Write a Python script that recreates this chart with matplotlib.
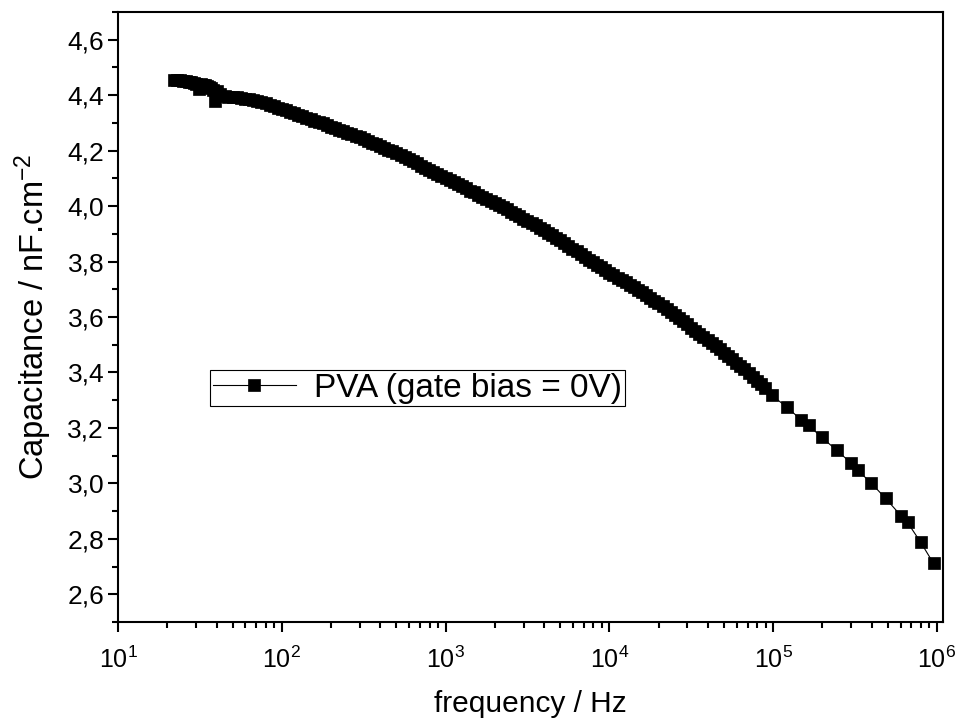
import numpy as np
import matplotlib
matplotlib.use("Agg")
import matplotlib.pyplot as plt
from matplotlib.ticker import MultipleLocator, FuncFormatter, LogLocator

# frecuencias (Hz)
freq = [22, 23, 24, 25, 26, 27, 28, 29, 30, 31, 32, 33, 34, 35, 36, 37, 38, 39, 40,
        42, 45, 47, 50, 53, 56, 60, 63, 67, 71, 75, 80, 85, 90, 95,
        100, 106, 112, 119, 126, 133, 141, 150, 158, 168, 178, 188, 200, 211,
        224, 237, 251, 266, 282, 299, 316, 335, 355, 376, 398, 422, 447, 473,
        501, 531, 562, 596, 631, 668, 708, 750, 794, 841, 891, 944,
        1000, 1059, 1122, 1189, 1259, 1334, 1413, 1496, 1585, 1679, 1778, 1884,
        1995, 2113, 2239, 2371, 2512, 2661, 2818, 2985, 3162, 3350, 3548, 3758,
        3981, 4217, 4467, 4732, 5012, 5309, 5623, 5957, 6310, 6683, 7079, 7499,
        7943, 8414, 8913, 9441,
        10000, 10593, 11220, 11885, 12589, 13335, 14125, 14962, 15849, 16788,
        17783, 18836, 19953, 21135, 22387, 23714, 25119, 26607, 28184, 29854,
        31623, 33497, 35481, 37584, 39811, 42170, 44668, 47315, 50119, 53088,
        56234, 59566, 63096, 66834, 70795, 74989, 79433, 84140, 89125,
        98000, 122000, 149000, 165000, 198000, 244000, 301000, 328000,
        399000, 486000, 603000, 662000, 798000, 955000]

# capacitancia (nF/cm2)
cap = [4.456, 4.455, 4.454, 4.452, 4.451, 4.449, 4.447, 4.445, 4.442, 4.422,
       4.440, 4.438, 4.436, 4.433, 4.430, 4.426, 4.420, 4.378, 4.415,
       4.405, 4.398, 4.395, 4.393, 4.392, 4.390, 4.386, 4.385, 4.383, 4.380,
       4.377, 4.371, 4.366, 4.360, 4.355,
       4.350, 4.345, 4.340, 4.335, 4.329, 4.324, 4.319, 4.314, 4.308, 4.303,
       4.298, 4.293, 4.287, 4.282, 4.276, 4.271, 4.265, 4.260, 4.254, 4.248,
       4.242, 4.236, 4.229, 4.223, 4.217, 4.211, 4.204, 4.197,
       4.190, 4.184, 4.177, 4.170, 4.162, 4.154, 4.146, 4.139, 4.131, 4.123,
       4.115, 4.108,
       4.100, 4.093, 4.086, 4.079, 4.071, 4.064, 4.056, 4.049, 4.041, 4.034,
       4.026, 4.019, 4.011, 4.003, 3.995, 3.988, 3.980, 3.972, 3.963, 3.955,
       3.947, 3.939, 3.931, 3.922, 3.913, 3.904, 3.895, 3.886, 3.876, 3.866,
       3.856, 3.847, 3.837, 3.827, 3.817, 3.807, 3.798, 3.788, 3.779, 3.769,
       3.760, 3.750, 3.741, 3.734, 3.727, 3.717, 3.708, 3.698, 3.689, 3.679,
       3.669, 3.659, 3.649, 3.639, 3.628, 3.617, 3.606, 3.595, 3.584, 3.573,
       3.561, 3.550, 3.539, 3.528, 3.517, 3.506, 3.495, 3.483, 3.471, 3.459,
       3.447, 3.435, 3.423, 3.411, 3.398, 3.384, 3.370, 3.357, 3.343,
       3.318, 3.274, 3.228, 3.209, 3.166, 3.120, 3.072, 3.048, 3.000, 2.946,
       2.884, 2.859, 2.787, 2.711]

plt.rcParams['font.family'] = ['Liberation Sans', 'DejaVu Sans']
plt.rcParams['mathtext.default'] = 'regular'

fig = plt.figure(figsize=(9.55, 7.22), dpi=100)
ax = fig.add_axes([0.1236, 0.1385, 0.8638, 0.8449])

ax.plot(freq, cap, '-s', color='black', lw=0.8, ms=8.5, mew=0.5,
        label='PVA (gate bias = 0V)')

ax.set_xscale('log')
ax.set_xlim(10, 1.09e6)
ax.set_ylim(2.5, 4.7)

ax.yaxis.set_major_locator(MultipleLocator(0.2))
ax.yaxis.set_minor_locator(MultipleLocator(0.1))
ax.yaxis.set_major_formatter(FuncFormatter(lambda v, p: f'{v:.1f}'.replace('.', ',')))
ax.xaxis.set_major_locator(LogLocator(base=10))
ax.xaxis.set_minor_locator(LogLocator(base=10, subs=np.arange(2, 10)))

ax.tick_params(which='both', direction='out', top=False, right=False, width=1.5)
ax.tick_params(which='major', length=7)
ax.tick_params(axis='x', which='major', pad=11, labelsize=18)
ax.tick_params(axis='y', which='major', pad=3, labelsize=19)
ax.tick_params(which='minor', length=4)
for s in ax.spines.values():
    s.set_linewidth(1.5)

ax.set_xlabel('frequency / Hz', fontsize=21.5, labelpad=12)
ax.set_ylabel('Capacitance / nF.cm$^{-2}$', fontsize=23.5, labelpad=10)

leg = ax.legend(loc='upper left', bbox_to_anchor=(0.1115, 0.413), borderaxespad=0,
                fontsize=24, fancybox=False, framealpha=1, edgecolor='black',
                handlelength=2.5, handletextpad=0.55, borderpad=0.08)
leg.get_frame().set_linewidth(0.8)

fig.savefig('out.png', dpi=100)
